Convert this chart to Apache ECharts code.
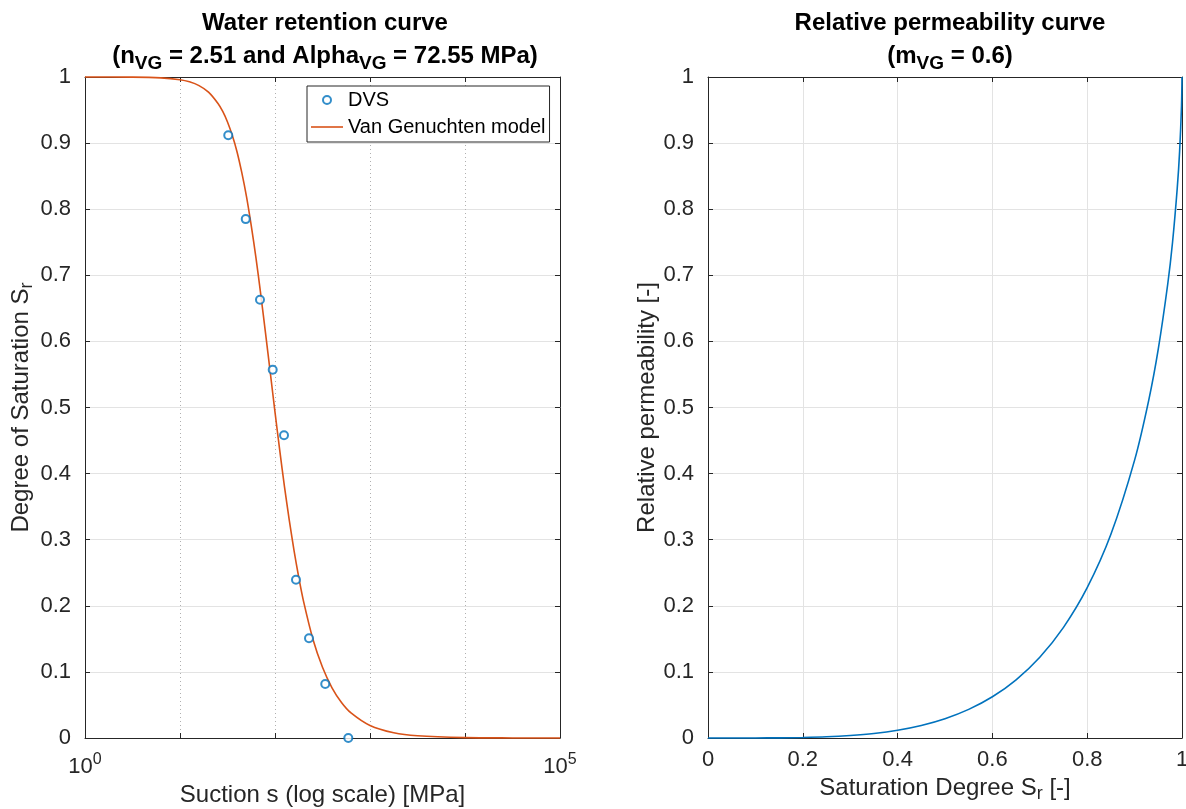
<!DOCTYPE html>
<html>
<head>
<meta charset="utf-8">
<script src="https://cdn.jsdelivr.net/npm/echarts@6/dist/echarts.min.js"></script>
<style>
html,body{margin:0;padding:0;background:#fff;}
#c{width:1186px;height:809px;}
</style>
</head>
<body>
<div id="c"></div>
<script>
// ---- Data ----
// DVS measurements: suction [MPa], degree of saturation [-]
const dvsSuction = [32.2, 49.2, 69.5, 94.6, 124.4, 166.3, 228, 338, 591];
const dvsSr      = [0.912, 0.785, 0.663, 0.557, 0.458, 0.2395, 0.151, 0.0817, 0.0];

// Van Genuchten model curve
const vgSuction = [1, 3.162, 6.31, 10, 12.59, 15.85, 19.95, 25.12, 28.18, 31.62, 35.48, 39.81, 44.67, 50.12,
                   56.23, 63.10, 70.79, 79.43, 89.13, 100, 112.2, 125.9, 141.3, 158.5, 177.8, 199.5,
                   251.2, 316.2, 398.1, 501.2, 631.0, 1000, 1778, 3162, 10000, 31623, 100000];
const vgSr      = [1.0, 0.9998, 0.9987, 0.9959, 0.9927, 0.987, 0.9772, 0.960, 0.9479, 0.932, 0.9118, 0.887, 0.8556, 0.819,
                   0.7751, 0.726, 0.6712, 0.613, 0.5532, 0.493, 0.4352, 0.380, 0.3297, 0.284, 0.2432, 0.207,
                   0.149, 0.107, 0.076, 0.0538, 0.038, 0.019, 0.008, 0.0034, 0.0006, 0.0001, 0.0];

// Relative permeability curve
const krSat = [0, 0.05, 0.1, 0.15, 0.2, 0.25, 0.3, 0.35, 0.4, 0.45, 0.5, 0.55, 0.6, 0.65, 0.7, 0.75, 0.8,
               0.85, 0.9, 0.93, 0.95, 0.97, 0.98, 0.99, 0.995, 0.999, 1];
const krVal = [0, 0.000002, 0.00005, 0.00025, 0.00078, 0.0018, 0.0038, 0.0069, 0.0118, 0.019, 0.0292, 0.0433,
               0.0624, 0.0881, 0.1222, 0.1674, 0.2274, 0.3082, 0.4204, 0.5116, 0.5886, 0.6872, 0.7496, 0.832,
               0.8879, 0.9569, 1];

// Tick labels
const xLogLabels = {1: '{a|10}{p|0}', 100000: '{a|10}{p|5}'};

// ---- Chart ----
const FONT = '"Liberation Sans", Arial, Helvetica, sans-serif';
const AX = '#262626';
const chart = echarts.init(document.getElementById('c'), null, {renderer: 'canvas'});

function boxAxis(type, gridIndex, position, extra) {
  return Object.assign({
    type: type, gridIndex: gridIndex, position: position,
    axisLine: {show: true, onZero: false, lineStyle: {color: AX, width: 1}},
    axisTick: {show: true, inside: true, length: 5, lineStyle: {color: AX}},
    axisLabel: {show: false},
    splitLine: {show: false}
  }, extra);
}

const subRich = {
  a: {fontFamily: FONT, fontSize: 24, color: AX, lineHeight: 30},
  s: {fontFamily: FONT, fontSize: 18, color: AX, lineHeight: 14, verticalAlign: 'bottom'}
};
const titleRich = {
  t: {fontFamily: FONT, fontSize: 24, fontWeight: 'bold', color: '#000', lineHeight: 33},
  s: {fontFamily: FONT, fontSize: 19, fontWeight: 'bold', color: '#000', lineHeight: 14, verticalAlign: 'bottom'}
};

const option = {
  backgroundColor: '#fff',
  animation: false,
  title: [
    {
      left: 320, top: 2, textAlign: 'center',
      text: '{t|Water retention curve}\n{t|(n}{s|VG}{t| = 2.51 and Alpha}{s|VG}{t| = 72.55 MPa)}',
      textStyle: {rich: titleRich}
    },
    {
      left: 945, top: 2, textAlign: 'center',
      text: '{t|Relative permeability curve}\n{t|(m}{s|VG}{t| = 0.6)}',
      textStyle: {rich: titleRich}
    }
  ],
  legend: {
    orient: 'vertical',
    left: 307, top: 86,
    data: [
      {name: 'DVS', icon: 'emptyCircle'},
      {name: 'Van Genuchten model', icon: 'path://M0,0L32,0L32,1.6L0,1.6Z'}
    ],
    symbolKeepAspect: true,
    borderColor: AX, borderWidth: 1,
    padding: [4, 4, 5, 4],
    itemGap: 7,
    itemWidth: 32, itemHeight: 8,
    backgroundColor: '#fff',
    textStyle: {fontFamily: FONT, fontSize: 20, color: '#000'}
  },
  grid: [
    {left: 85, top: 77, width: 475, height: 661, outerBoundsMode: 'none', containLabel: false},
    {left: 708, top: 77, width: 474, height: 661, outerBoundsMode: 'none', containLabel: false}
  ],
  xAxis: [
    {
      type: 'log', logBase: 10, gridIndex: 0, min: 1, max: 100000, position: 'bottom',
      name: 'Suction s (log scale) [MPa]', nameLocation: 'middle', nameGap: 44,
      nameTextStyle: {fontFamily: FONT, fontSize: 24, color: AX},
      axisLine: {show: true, onZero: false, lineStyle: {color: AX, width: 1}},
      axisTick: {show: true, inside: true, length: 5, lineStyle: {color: AX}},
      axisLabel: {
        margin: 14,
        formatter: function (v) { return xLogLabels[Math.round(v)] || ''; },
        rich: {
          a: {fontFamily: FONT, fontSize: 22, color: AX, lineHeight: 26, verticalAlign: 'bottom'},
          p: {fontFamily: FONT, fontSize: 16, color: AX, lineHeight: 14, verticalAlign: 'top'}
        }
      },
      splitLine: {show: true, lineStyle: {color: '#b0b0b0', type: [1, 3], width: 1}}
    },
    boxAxis('log', 0, 'top', {logBase: 10, min: 1, max: 100000}),
    {
      type: 'value', gridIndex: 1, min: 0, max: 1, interval: 0.2, position: 'bottom',
      name: '{a|Saturation Degree S}{s|r}{a| [-]}', nameLocation: 'middle', nameGap: 34,
      nameTextStyle: {rich: subRich},
      axisLine: {show: true, onZero: false, lineStyle: {color: AX, width: 1}},
      axisTick: {show: true, inside: true, length: 5, lineStyle: {color: AX}},
      axisLabel: {fontFamily: FONT, fontSize: 22, color: AX, margin: 11},
      splitLine: {show: true, lineStyle: {color: '#e3e3e3', width: 1}}
    },
    boxAxis('value', 1, 'top', {min: 0, max: 1, interval: 0.2})
  ],
  yAxis: [
    {
      type: 'value', gridIndex: 0, min: 0, max: 1, interval: 0.1, position: 'left',
      name: '{a|Degree of Saturation S}{s|r}', nameLocation: 'middle', nameGap: 49,
      nameTextStyle: {rich: subRich},
      axisLine: {show: true, onZero: false, lineStyle: {color: AX, width: 1}},
      axisTick: {show: true, inside: true, length: 5, lineStyle: {color: AX}},
      axisLabel: {fontFamily: FONT, fontSize: 22, color: AX, margin: 14},
      splitLine: {show: true, lineStyle: {color: '#e3e3e3', width: 1}}
    },
    boxAxis('value', 0, 'right', {min: 0, max: 1, interval: 0.1}),
    {
      type: 'value', gridIndex: 1, min: 0, max: 1, interval: 0.1, position: 'left',
      name: 'Relative permeability [-]', nameLocation: 'middle', nameGap: 41,
      nameTextStyle: {fontFamily: FONT, fontSize: 24, color: AX},
      axisLine: {show: true, onZero: false, lineStyle: {color: AX, width: 1}},
      axisTick: {show: true, inside: true, length: 5, lineStyle: {color: AX}},
      axisLabel: {fontFamily: FONT, fontSize: 22, color: AX, margin: 14},
      splitLine: {show: true, lineStyle: {color: '#e3e3e3', width: 1}}
    },
    boxAxis('value', 1, 'right', {min: 0, max: 1, interval: 0.1})
  ],
  series: [
    {
      name: 'DVS', type: 'scatter', xAxisIndex: 0, yAxisIndex: 0,
      symbol: 'emptyCircle', symbolSize: 8,
      itemStyle: {color: '#0072BD', borderColor: '#0072BD', borderWidth: 1.6},
      data: dvsSuction.map((s, i) => [s, dvsSr[i]]),
      z: 4
    },
    {
      name: 'Van Genuchten model', type: 'line', xAxisIndex: 0, yAxisIndex: 0,
      showSymbol: false, symbol: 'none', smooth: 0.3, clip: false,
      lineStyle: {color: '#D95319', width: 1.6},
      itemStyle: {color: '#D95319'},
      data: vgSuction.map((s, i) => [s, vgSr[i]]),
      z: 3
    },
    {
      name: 'kr', type: 'line', xAxisIndex: 2, yAxisIndex: 2,
      showSymbol: false, symbol: 'none', smooth: 0.3, clip: false,
      lineStyle: {color: '#0072BD', width: 1.6},
      data: krSat.map((s, i) => [s, krVal[i]]),
      z: 3
    }
  ]
};
chart.setOption(option);
</script>
</body>
</html>
